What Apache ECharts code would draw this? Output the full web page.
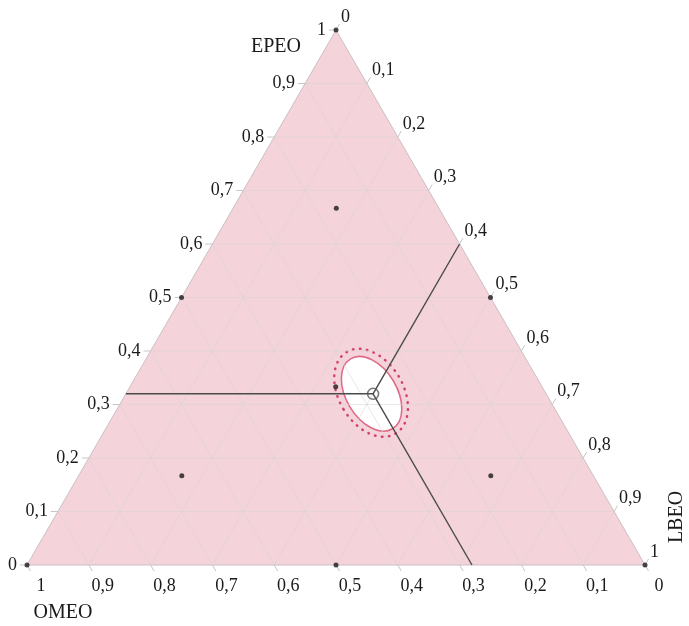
<!DOCTYPE html>
<html>
<head>
<meta charset="utf-8">
<script src="https://cdn.jsdelivr.net/npm/echarts@6/dist/echarts.min.js"></script>
<style>
html, body { margin: 0; background: #fff; }
#main { width: 689px; height: 626px; }
</style>
</head>
<body>
<div id="main"></div>
<script>
// ternary mixture plot: EPEO at top, OMEO bottom left, LBEO bottom right
var tickValues = [0, 0.1, 0.2, 0.3, 0.4, 0.5, 0.6, 0.7, 0.8, 0.9, 1];
var tickLabels = ['0', '0,1', '0,2', '0,3', '0,4', '0,5', '0,6', '0,7', '0,8', '0,9', '1'];

// design points (simplex centroid + axial points)
var designEPEO = [1, 0, 0, 0.5, 0.5, 0, 0.333, 0.667, 0.167, 0.167];
var designOMEO = [0, 1, 0, 0.5, 0, 0.5, 0.333, 0.167, 0.667, 0.167];
var designLBEO = [0, 0, 1, 0, 0.5, 0.5, 0.333, 0.167, 0.167, 0.667];

// optimum mixture
var optEPEO = 0.32, optOMEO = 0.28, optLBEO = 0.40;
// region around the optimum (semi axes as fraction of the side, tilt in deg)
var regionAxes = [0.066, 0.041];
var outerAxes = [0.077, 0.052];
var regionTilt = 31;

var H = Math.sqrt(3) / 2;
function tern(e, o, l) {
  return [l + e / 2, e * H];
}

var corners = [tern(1, 0, 0), tern(0, 1, 0), tern(0, 0, 1)];

var gridSegs = [];
for (var i = 1; i < tickValues.length - 1; i++) {
  var v = tickValues[i];
  gridSegs.push(tern(v, 1 - v, 0).concat(tern(v, 0, 1 - v)));
  gridSegs.push(tern(1 - v, v, 0).concat(tern(0, v, 1 - v)));
  gridSegs.push(tern(1 - v, 0, v).concat(tern(0, 1 - v, v)));
}

var leftTicks = [], rightTicks = [], bottomTicks = [];
tickValues.forEach(function (v, k) {
  leftTicks.push(tern(v, 1 - v, 0).concat([k]));
  rightTicks.push(tern(1 - v, 0, v).concat([k]));
  bottomTicks.push(tern(0, v, 1 - v).concat([k]));
});

var designPts = designEPEO.map(function (e, k) {
  return tern(e, designOMEO[k], designLBEO[k]);
});

var optPt = tern(optEPEO, optOMEO, optLBEO);
var traceSegs = [
  optPt.concat(tern(optEPEO, 1 - optEPEO, 0)),
  optPt.concat(tern(1 - optLBEO, 0, optLBEO)),
  optPt.concat(tern(0, optOMEO, 1 - optOMEO))
];

var FONT = '"Liberation Serif", "DejaVu Serif", serif';

function segSeries(data, stroke, width, z) {
  return {
    type: 'custom',
    z: z,
    silent: true,
    data: data,
    encode: { x: [0, 2], y: [1, 3] },
    renderItem: function (params, api) {
      var a = api.coord([api.value(0), api.value(1)]);
      var b = api.coord([api.value(2), api.value(3)]);
      return {
        type: 'line',
        shape: { x1: a[0], y1: a[1], x2: b[0], y2: b[1] },
        style: { stroke: stroke, lineWidth: width }
      };
    }
  };
}

function tickSeries(data, dir, dx, dy, align) {
  return {
    type: 'custom',
    z: 6,
    silent: true,
    data: data,
    encode: { x: 0, y: 1 },
    renderItem: function (params, api) {
      var p = api.coord([api.value(0), api.value(1)]);
      var k = api.value(2);
      return {
        type: 'group',
        children: [
          {
            type: 'line',
            shape: { x1: p[0], y1: p[1], x2: p[0] + dir[0] * 7, y2: p[1] + dir[1] * 7 },
            style: { stroke: '#c8c4c5', lineWidth: 1 }
          },
          {
            type: 'text',
            x: p[0] + dx,
            y: p[1] + dy,
            style: {
              text: tickLabels[k],
              fontFamily: FONT,
              fontSize: 18,
              fill: '#1a1a1a',
              align: align,
              verticalAlign: 'middle'
            }
          }
        ]
      };
    }
  };
}

var chart = echarts.init(document.getElementById('main'));
chart.setOption({
  animation: false,
  grid: { left: 27, top: 30, width: 618, height: 535 },
  xAxis: { type: 'value', min: 0, max: 1, show: false },
  yAxis: { type: 'value', min: 0, max: H, show: false },
  graphic: [
    { type: 'text', x: 276, y: 47, style: { text: 'EPEO', fontFamily: FONT, fontSize: 20, fill: '#1a1a1a', align: 'center', verticalAlign: 'middle' } },
    { type: 'text', x: 63, y: 613, style: { text: 'OMEO', fontFamily: FONT, fontSize: 20, fill: '#1a1a1a', align: 'center', verticalAlign: 'middle' } },
    { type: 'text', x: 677, y: 517, rotation: Math.PI / 2, style: { text: 'LBEO', fontFamily: FONT, fontSize: 20, fill: '#1a1a1a', align: 'center', verticalAlign: 'middle' } }
  ],
  series: [
    {
      type: 'custom',
      z: 1,
      silent: true,
      data: [0],
      renderItem: function (params, api) {
        var pts = corners.map(function (c) { return api.coord(c); });
        return {
          type: 'polygon',
          shape: { points: pts },
          style: { fill: '#f4d3da', stroke: '#cbbfc2', lineWidth: 1 }
        };
      }
    },
    {
      type: 'custom',
      z: 2,
      silent: true,
      data: [optPt],
      encode: { x: 0, y: 1 },
      renderItem: function (params, api) {
        var c = api.coord([api.value(0), api.value(1)]);
        var s = api.size([regionAxes[1], regionAxes[0]]);
        var so = api.size([outerAxes[1], outerAxes[0]]);
        var rot = regionTilt * Math.PI / 180;
        return {
          type: 'group',
          children: [
            {
              type: 'ellipse', x: c[0] - 1.5, y: c[1], rotation: rot,
              shape: { cx: 0, cy: 0, rx: s[0], ry: s[1] },
              style: { fill: '#ffffff', stroke: '#e06884', lineWidth: 1.5 }
            },
            {
              type: 'ellipse', x: c[0] - 2, y: c[1] - 1, rotation: rot,
              shape: { cx: 0, cy: 0, rx: so[0], ry: so[1] },
              style: { fill: 'none', stroke: '#d4406a', lineWidth: 2.5, lineDash: [0.5, 6.5], lineCap: 'round' }
            }
          ]
        };
      }
    },
    segSeries(gridSegs, 'rgba(215,212,213,0.55)', 1, 3),
    segSeries(traceSegs, '#4b4b4b', 1.4, 4),
    tickSeries(leftTicks, [-1, 0], -10, 0, 'right'),
    tickSeries(rightTicks, [0.5, -0.866], 5, -13, 'left'),
    tickSeries(bottomTicks, [0.5, 0.866], 14, 21, 'center'),
    {
      type: 'scatter',
      z: 7,
      silent: true,
      symbolSize: 5,
      itemStyle: { color: '#1a1a1a' },
      data: designPts
    },
    {
      type: 'scatter',
      z: 8,
      silent: true,
      symbol: 'circle',
      symbolSize: 11,
      itemStyle: { color: 'rgba(0,0,0,0)', borderColor: '#555', borderWidth: 1.5 },
      data: [optPt]
    }
  ]
});
</script>
</body>
</html>
